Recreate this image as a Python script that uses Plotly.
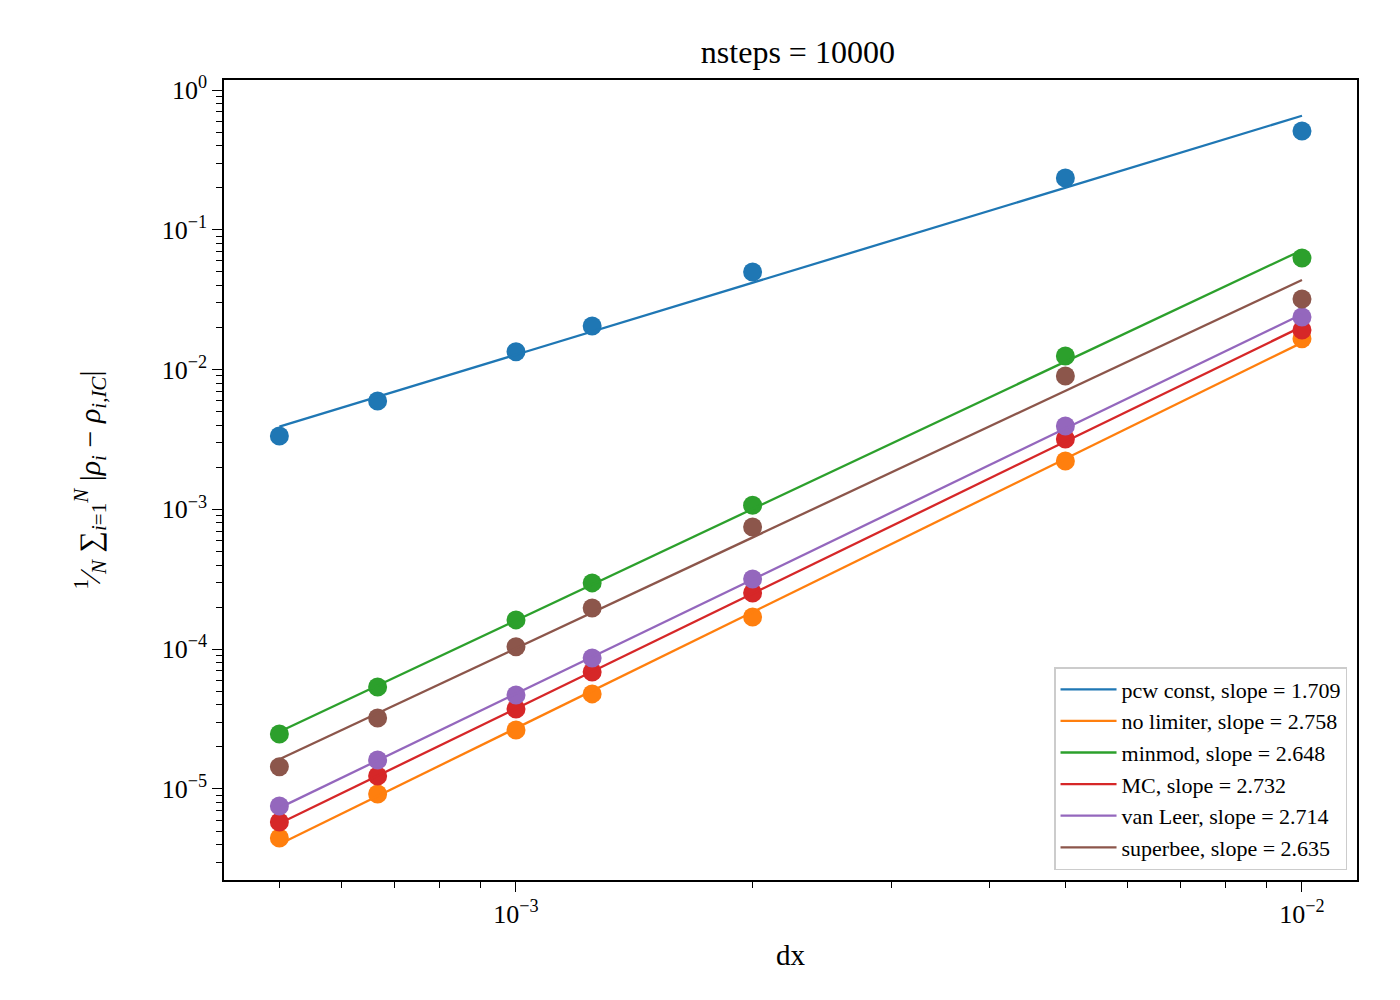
import numpy as np
import plotly.graph_objects as go

# ---- data ----
dx = [0.0005, 0.0006667, 0.001, 0.00125, 0.002, 0.005, 0.01]

names = ["pcw const", "no limiter", "minmod", "MC", "van Leer", "superbee"]
slopes = [1.709, 2.758, 2.648, 2.732, 2.714, 2.635]

err_pcw = [3.35e-3, 5.96e-3, 1.34e-2, 2.05e-2, 4.99e-2, 0.235, 0.509]
err_nolim = [4.46e-6, 9.2e-6, 2.64e-5, 4.79e-5, 1.70e-4, 2.22e-3, 1.66e-2]
err_minmod = [2.47e-5, 5.37e-5, 1.62e-4, 2.98e-4, 1.07e-3, 1.25e-2, 6.29e-2]
err_mc = [5.8e-6, 1.24e-5, 3.73e-5, 6.87e-5, 2.52e-4, 3.19e-3, 1.92e-2]
err_vanleer = [7.55e-6, 1.61e-5, 4.7e-5, 8.65e-5, 3.18e-4, 3.95e-3, 2.38e-2]
err_superbee = [1.44e-5, 3.22e-5, 1.04e-4, 1.97e-4, 7.48e-4, 9.0e-3, 3.2e-2]

errors = [err_pcw, err_nolim, err_minmod, err_mc, err_vanleer, err_superbee]
colors = ["#1f77b4", "#ff7f0e", "#2ca02c", "#d62728", "#9467bd", "#8c564b"]

FONT = "Liberation Serif"

fig = go.Figure()
lx = np.log10(np.array(dx))
for name, s, err, c in zip(names, slopes, errors, colors):
    ly = np.log10(np.array(err))
    intercept = np.mean(ly - s * lx)
    fit = 10 ** (intercept + s * lx)
    fig.add_trace(go.Scatter(x=dx, y=err, mode="markers",
                             marker=dict(color=c, size=19, line=dict(width=0)),
                             showlegend=False, hoverinfo="skip"))
    fig.add_trace(go.Scatter(x=dx, y=fit, mode="lines",
                             line=dict(color=c, width=2.3),
                             name=f"{name}, slope = {s:.3f}"))

def sup(e):
    return "10<sup>" + (str(e) if e >= 0 else "\u2212" + str(-e)) + "</sup>"

ymaj = [10.0 ** e for e in range(-5, 1)]
ymin = [m * 10.0 ** e for e in range(-6, 1) for m in range(2, 10)]
xmaj = [1e-3, 1e-2]
xmin = [m * 10.0 ** e for e in range(-4, -1) for m in range(2, 10)]

axis_common = dict(type="log", showgrid=False, zeroline=False, showline=True,
                   linecolor="black", linewidth=1.5, mirror=True,
                   ticks="outside", ticklen=10, tickwidth=1.4, tickcolor="black",
                   tickfont=dict(family=FONT, size=26, color="black"))

fig.update_xaxes(**axis_common, range=[-3.3715, -1.93],
                 tickmode="array", tickvals=xmaj, ticktext=[sup(-3), sup(-2)],
                 minor=dict(tickmode="array", tickvals=xmin, ticks="outside",
                            ticklen=6, tickwidth=1.1, tickcolor="black"),
                 title=dict(text="dx", font=dict(family=FONT, size=29, color="black"), standoff=17))
fig.update_yaxes(**axis_common, range=[-5.651, 0.0715],
                 tickmode="array", tickvals=ymaj, ticktext=[sup(e) for e in range(-5, 1)],
                 minor=dict(tickmode="array", tickvals=ymin, ticks="outside",
                            ticklen=6, tickwidth=1.1, tickcolor="black"),
                 title=dict(text="<sup>1</sup>\u2044<sub><i>N</i></sub> \u2211<sub><i>i</i>=1</sub><sup><i>N</i></sup> |<i>\u03c1<sub>i</sub></i> \u2212 <i>\u03c1<sub>i,IC</sub></i>|",
                            font=dict(family=FONT, size=30, color="black"), standoff=52))

fig.update_layout(
    width=1400, height=1000,
    paper_bgcolor="white", plot_bgcolor="white",
    margin=dict(l=216, r=51, t=72, b=128),
    title=dict(text="nsteps = 10000", x=0.5642, xanchor="center", y=0.956, yanchor="middle",
               font=dict(family=FONT, size=32, color="black")),
    legend=dict(x=0.9912, y=0.0125, xanchor="right", yanchor="bottom",
                bgcolor="rgba(255,255,255,0.8)", bordercolor="#cccccc", borderwidth=1.5,
                font=dict(family=FONT, size=22, color="black"),
                itemwidth=56, tracegroupgap=0),
    showlegend=True,
)

fig.write_html("out.html")
